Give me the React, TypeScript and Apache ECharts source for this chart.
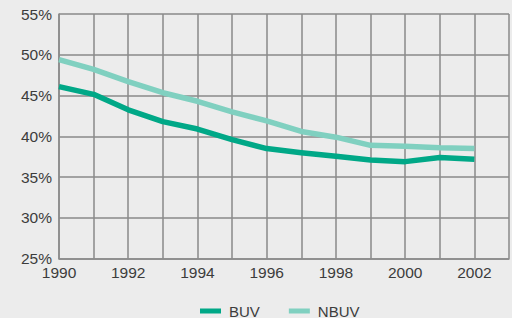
import React, { useEffect, useRef } from "react";
import * as echarts from "echarts";

const years = [1990, 1991, 1992, 1993, 1994, 1995, 1996, 1997, 1998, 1999, 2000, 2001, 2002];
const buv = [46.1, 45.15, 43.25, 41.8, 40.9, 39.6, 38.5, 38.0, 37.55, 37.1, 36.9, 37.4, 37.2];
const nbuv = [49.4, 48.2, 46.7, 45.35, 44.3, 43.0, 41.9, 40.6, 39.9, 38.9, 38.8, 38.6, 38.5];
const seriesNames = ["BUV", "NBUV"];
const colors = ["#00a887", "#80d0c0"];

export default function App() {
  const ref = useRef<HTMLDivElement>(null);
  useEffect(() => {
    document.body.style.margin = "0";
    const chart = echarts.init(ref.current!, undefined, { renderer: "svg" });
    const font = "'Liberation Sans', Arial, Helvetica, sans-serif";
    chart.setOption({
      animation: false,
      backgroundColor: "#ececec",
      textStyle: { fontFamily: font },
      grid: { left: 59, right: -1, top: 14, bottom: 59.3, containLabel: false },
      legend: {
        left: 200,
        top: 303.5,
        padding: 0,
        icon: "rect",
        itemWidth: 21,
        itemHeight: 5,
        itemGap: 29,
        textStyle: {
          fontSize: 15,
          lineHeight: 14,
          color: "#3c3c3c",
          fontFamily: font,
          padding: [0, 0, 0, 3],
        },
        data: seriesNames,
      },
      xAxis: {
        type: "value",
        min: 1990,
        max: 2003,
        interval: 1,
        axisLine: { show: true, lineStyle: { color: "#8a8a8a", width: 1.5 } },
        axisTick: { show: false },
        axisLabel: {
          color: "#3c3c3c",
          fontSize: 15.5,
          margin: 6,
          fontFamily: font,
          formatter: (v: number) => (v % 2 === 0 && v <= 2002 ? String(v) : ""),
        },
        splitLine: { show: true, lineStyle: { color: "#8a8a8a", width: 1.5 } },
      },
      yAxis: {
        type: "value",
        min: 25,
        max: 55,
        interval: 5,
        axisLine: { show: true, lineStyle: { color: "#8a8a8a", width: 1.5 } },
        axisTick: { show: false },
        axisLabel: {
          color: "#3c3c3c",
          fontSize: 15.5,
          margin: 7,
          fontFamily: font,
          formatter: (v: number) => v + "%",
        },
        splitLine: { show: true, lineStyle: { color: "#8a8a8a", width: 1.5 } },
      },
      series: [
        {
          name: seriesNames[0],
          type: "line",
          data: years.map((y, i) => [y, buv[i]]),
          showSymbol: false,
          symbol: "none",
          color: colors[0],
          lineStyle: { width: 5.5, color: colors[0], join: "round" },
        },
        {
          name: seriesNames[1],
          type: "line",
          data: years.map((y, i) => [y, nbuv[i]]),
          showSymbol: false,
          symbol: "none",
          color: colors[1],
          lineStyle: { width: 5.5, color: colors[1], join: "round" },
        },
      ],
    });
    return () => chart.dispose();
  }, []);
  return (
    <div
      ref={ref}
      style={{ position: "fixed", left: 0, top: 0, width: 512, height: 318 }}
    />
  );
}
